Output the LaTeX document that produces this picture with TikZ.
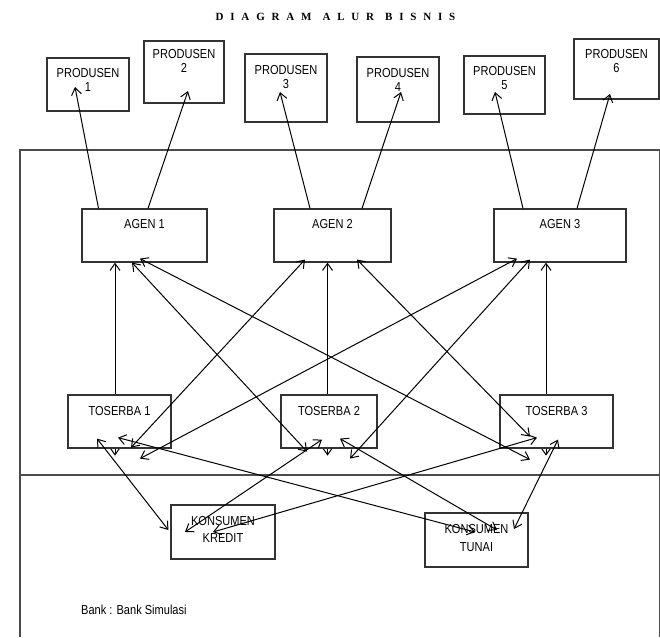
\documentclass[tikz,border=0pt]{standalone}
\usepackage{fontspec}
\newfontfamily\boxfont{Liberation Sans}[FakeStretch=0.85]
\newfontfamily\titlefont{Liberation Serif}[LetterSpace=62]
\usetikzlibrary{arrows.meta}
\pgfdeclarelayer{bg}
\pgfsetlayers{bg,main}
\tikzset{
  box/.style={draw=black!80, line width=1.2pt, fill=white, inner sep=0pt},
  boxtext/.style={font=\boxfont\fontsize{13pt}{#1}\selectfont, align=center, anchor=north, inner sep=0pt},
  boxtext/.default=14pt,
  frame/.style={draw=black!70, line width=1.4pt},
  link/.style={<->, line width=1pt},
  >={Straight Barb[length=7pt,width=10pt]},
}
\begin{document}
\begin{tikzpicture}[x=1pt, y=-1pt]
\useasboundingbox (0,0) rectangle (660,637);
\node[font=\titlefont\bfseries\fontsize{11pt}{12pt}\selectfont] (title) at (335.5,17) {DIAGRAM\hspace{11pt}ALUR\hspace{11pt}BISNIS};
% frame
\draw[frame] (20,637) -- (20,150) -- (659.5,150) -- (659.5,637);
\draw[frame] (20,475) -- (660,475);

% produsen
\node[box, minimum width=82pt, minimum height=53pt, label={[boxtext, yshift=-10.7pt]north:PRODUSEN\\1}] (p1) at (88,84.5) {};
\node[box, minimum width=80pt, minimum height=62pt, label={[boxtext, yshift=-8.7pt]north:PRODUSEN\\2}] (p2) at (184,72) {};
\node[box, minimum width=82pt, minimum height=68pt, label={[boxtext, yshift=-11.7pt]north:PRODUSEN\\3}] (p3) at (286,88) {};
\node[box, minimum width=82pt, minimum height=65pt, label={[boxtext, yshift=-11.4pt]north:PRODUSEN\\4}] (p4) at (398,89.5) {};
\node[box, minimum width=81pt, minimum height=58pt, label={[boxtext, yshift=-11pt]north:PRODUSEN\\5}] (p5) at (504.5,85) {};
\node[box, minimum width=85pt, minimum height=60pt, label={[boxtext, yshift=-11pt]north:PRODUSEN\\6}] (p6) at (616.5,69) {};

% agen
\node[box, minimum width=125pt, minimum height=53pt, label={[boxtext, yshift=-10.7pt]north:AGEN 1}] (a1) at (144.5,235.5) {};
\node[box, minimum width=117pt, minimum height=53pt, label={[boxtext, yshift=-10.7pt]north:AGEN 2}] (a2) at (332.5,235.5) {};
\node[box, minimum width=132pt, minimum height=53pt, label={[boxtext, yshift=-10.7pt]north:AGEN 3}] (a3) at (560,235.5) {};

% toserba
\node[box, minimum width=103pt, minimum height=53pt, label={[boxtext, yshift=-11.7pt]north:TOSERBA 1}] (t1) at (119.5,421.5) {};
\node[box, minimum width=96pt, minimum height=53pt, label={[boxtext, yshift=-11.7pt]north:TOSERBA 2}] (t2) at (329,421.5) {};
\node[box, minimum width=113pt, minimum height=53pt, label={[boxtext, yshift=-11.7pt]north:TOSERBA 3}] (t3) at (556.5,421.5) {};

% konsumen
\node[box, minimum width=104pt, minimum height=54pt, label={[boxtext=17.5pt, yshift=-11.7pt]north:KONSUMEN\\KREDIT}] (kk) at (223,532) {};
\node[box, minimum width=103pt, minimum height=54pt, label={[boxtext=18pt, yshift=-11.7pt]north:KONSUMEN\\TUNAI}] (kt) at (476.5,540) {};

\node[font=\boxfont\fontsize{13pt}{14pt}\selectfont, anchor=west, inner sep=0pt] (bank) at (81,610) {Bank : Bank Simulasi};

% toserba - agen (lurus)
\begin{pgfonlayer}{bg}
\draw[link] ([xshift=-4.5pt,yshift=-7pt]t1.south) -- ([xshift=-29.5pt]a1.south);
\draw[link] ([xshift=-1.5pt,yshift=-7pt]t2.south) -- ([xshift=-5pt]a2.south);
\draw[link] ([xshift=-10.5pt,yshift=-7pt]t3.south) -- ([xshift=-14pt]a3.south);
\end{pgfonlayer}

% agen - produsen
\draw[link, ->] ([xshift=-46pt]a1.north) -- ([xshift=-13pt,yshift=-2.5pt]p1.center);
\draw[link, ->] ([xshift=3.5pt]a1.north) -- ([xshift=4pt,yshift=-19pt]p2.center);
\draw[link, ->] ([xshift=-22.5pt]a2.north) -- ([xshift=-6pt,yshift=-4pt]p3.center);
\draw[link, ->] ([xshift=29.5pt]a2.north) -- ([xshift=3pt,yshift=-2.5pt]p4.center);
\draw[link, ->] ([xshift=-37pt]a3.north) -- ([xshift=-9.5pt,yshift=-7pt]p5.center);
\draw[link, ->] ([xshift=17pt]a3.north) -- ([xshift=-6.5pt,yshift=-25pt]p6.center);

% agen - toserba (silang)
\draw[link] ([xshift=-12.5pt]a1.south) -- ([xshift=-22pt,yshift=-3pt]t2.south);
\draw[link] ([xshift=-4.5pt,yshift=4pt]a1.south) -- ([xshift=-26.5pt,yshift=-11pt]t3.south);
\draw[link] ([xshift=-27.5pt,yshift=3pt]a2.south) -- ([xshift=11.5pt,yshift=1pt]t1.south);
\draw[link] ([xshift=24.5pt,yshift=3pt]a2.south) -- ([xshift=-26.5pt,yshift=12pt]t3.south);
\draw[link] ([xshift=-43pt,yshift=4pt]a3.south) -- ([xshift=20.5pt,yshift=-10pt]t1.south);
\draw[link] ([xshift=-30pt,yshift=3pt]a3.south) -- ([xshift=21pt,yshift=-10pt]t2.south);

% toserba - konsumen
\draw[link] ([xshift=-22.5pt,yshift=10pt]t1.south) -- ([xshift=-2pt,yshift=2pt]kk.west);
\draw[link] ([xshift=-1.5pt,yshift=11pt]t1.south) -- ([xshift=-1.5pt,yshift=8pt]kt.center);
\draw[link] ([xshift=-7pt,yshift=9pt]t2.south) -- ([xshift=-38pt]kk.center);
\draw[link] ([xshift=11pt,yshift=10pt]t2.south) -- ([xshift=20.5pt,yshift=10pt]kt.center);
\draw[link] ([xshift=-19.5pt,yshift=11pt]t3.south) -- ([xshift=-10pt]kk.center);
\draw[link] ([xshift=1.5pt,yshift=9pt]t3.south) -- ([xshift=37.5pt,yshift=11pt]kt.center);
\end{tikzpicture}
\end{document}
